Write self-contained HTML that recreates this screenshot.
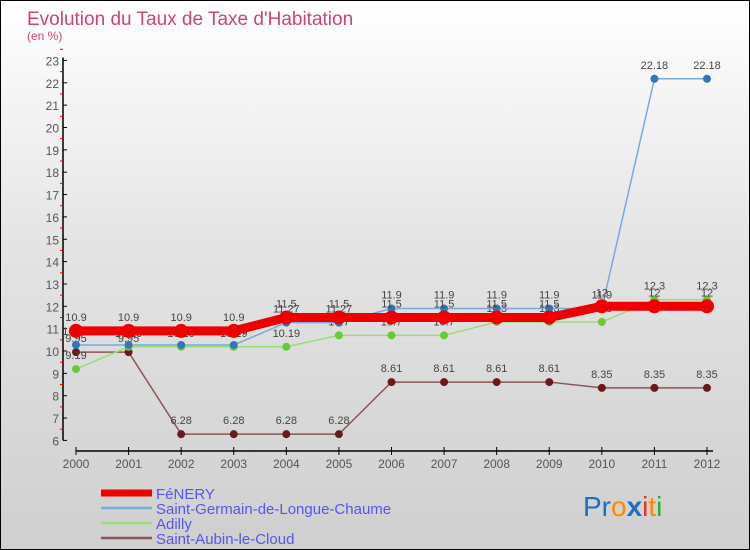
<!DOCTYPE html>
<html><head><meta charset="utf-8"><style>
body{margin:0;}
#c{position:relative;width:748px;height:548px;border:1px solid #000;background:linear-gradient(#fff 0%,#e4e4e4 45%,#cfcfcf 100%);font-family:"Liberation Sans",sans-serif;overflow:hidden}
</style></head><body>
<div id="c">
<svg id="s" width="748" height="548" xmlns="http://www.w3.org/2000/svg">
<text x="26" y="24" font-size="19" fill="#cc4477">Evolution du Taux de Taxe d'Habitation</text>
<text x="26" y="39" font-size="12" fill="#cc4477">(en %)</text>
<g id="axes"></g><g id="series"></g><g id="legend"></g>
<text x="582" y="515" font-size="28"><tspan fill="#1a6fc9">Pr</tspan><tspan fill="#ff8800">o</tspan><tspan fill="#1a6fc9" font-weight="bold">x</tspan><tspan fill="#ee3311">i</tspan><tspan fill="#ff8800">t</tspan><tspan fill="#33aa33">i</tspan></text>
</svg></div>
<script>
const years=[2000,2001,2002,2003,2004,2005,2006,2007,2008,2009,2010,2011,2012];
const yTicks=[6,7,8,9,10,11,12,13,14,15,16,17,18,19,20,21,22,23];
const seriesNames=["FéNERY","Saint-Germain-de-Longue-Chaume","Adilly","Saint-Aubin-le-Cloud"];
const fenery=[10.9,10.9,10.9,10.9,11.5,11.5,11.5,11.5,11.5,11.5,12,12,12];
const stGermain=[10.27,10.27,10.27,10.27,11.27,11.27,11.9,11.9,11.9,11.9,11.9,22.18,22.18];
const adilly=[9.19,10.19,10.19,10.19,10.19,10.7,10.7,10.7,11.3,11.3,11.3,12.3,12.3];
const stAubin=[9.95,9.95,6.28,6.28,6.28,6.28,8.61,8.61,8.61,8.61,8.35,8.35,8.35];
const NS="http://www.w3.org/2000/svg";
const X=i=>75+i*(706-75)/12;
const Y=v=>350-(v-10)*22.35;
function mk(t,a,p){const e=document.createElementNS(NS,t);for(const k in a)e.setAttribute(k,a[k]);p.appendChild(e);return e;}
const ax=document.getElementById('axes');
let yl=mk('line',{x1:62,y1:Y(23)-3,x2:62,y2:Y(6),stroke:'#000','stroke-width':1.5},ax);


yTicks.forEach(v=>{
 mk('line',{x1:62,y1:Y(v),x2:66,y2:Y(v),stroke:'#000'},ax);
 mk('line',{x1:59,y1:Y(v+0.5),x2:62,y2:Y(v+0.5),stroke:'#e00'},ax);
 let t=mk('text',{x:58,y:Y(v)+5,'font-size':12,fill:'#555','text-anchor':'end'},ax);t.textContent=v;
 
 
});
let xl=mk('line',{x1:75,y1:450,x2:712,y2:450,stroke:'#000','stroke-width':1.5},ax);


years.forEach((y,i)=>{
 mk('line',{x1:X(i),y1:446,x2:X(i),y2:454,stroke:'#000'},ax);
 let t=mk('text',{x:X(i),y:467,'font-size':12,fill:'#555','text-anchor':'middle'},ax);t.textContent=y;
 
 
});
const sg=document.getElementById('series');
const defs=[[stAubin,'#6b1a1a','#8b5555',1.5,4,'series-saint-aubin'],[adilly,'#66cc33','#99dd77',1.5,4,'series-adilly'],[stGermain,'#3377bb','#77aadd',1.5,4,'series-saint-germain'],[fenery,'#ee0000','#ee0000',9,7,'series-fenery']];
defs.forEach(([d,c,lc,w,r,n])=>{
 const g=mk('g',{},sg);
 
 
 mk('polyline',{points:d.map((v,i)=>X(i)+','+Y(v)).join(' '),fill:'none',stroke:lc,'stroke-width':w},g);
 d.forEach((v,i)=>{
  const p=mk('circle',{cx:X(i),cy:Y(v),r:r,fill:c},g);
  
  
  const t=mk('text',{x:X(i),y:Y(v)-10,'font-size':11,fill:'#444','text-anchor':'middle'},g);t.textContent=v;
  
  
 });
});
const lg=document.getElementById('legend');
const lcol=['#ee0000','#77aadd','#99dd77','#8b5555'],lw=[7,2.5,2.5,2.5];
seriesNames.forEach((n,i)=>{
 const y=492+i*15;
 const g=mk('g',{},lg);
 
 
 mk('line',{x1:100,y1:y,x2:151,y2:y,stroke:lcol[i],'stroke-width':lw[i]},g);
 const t=mk('text',{x:155,y:y+6,'font-size':15,fill:'#5555ee'},g);t.textContent=n;
});
</script>
</body></html>
